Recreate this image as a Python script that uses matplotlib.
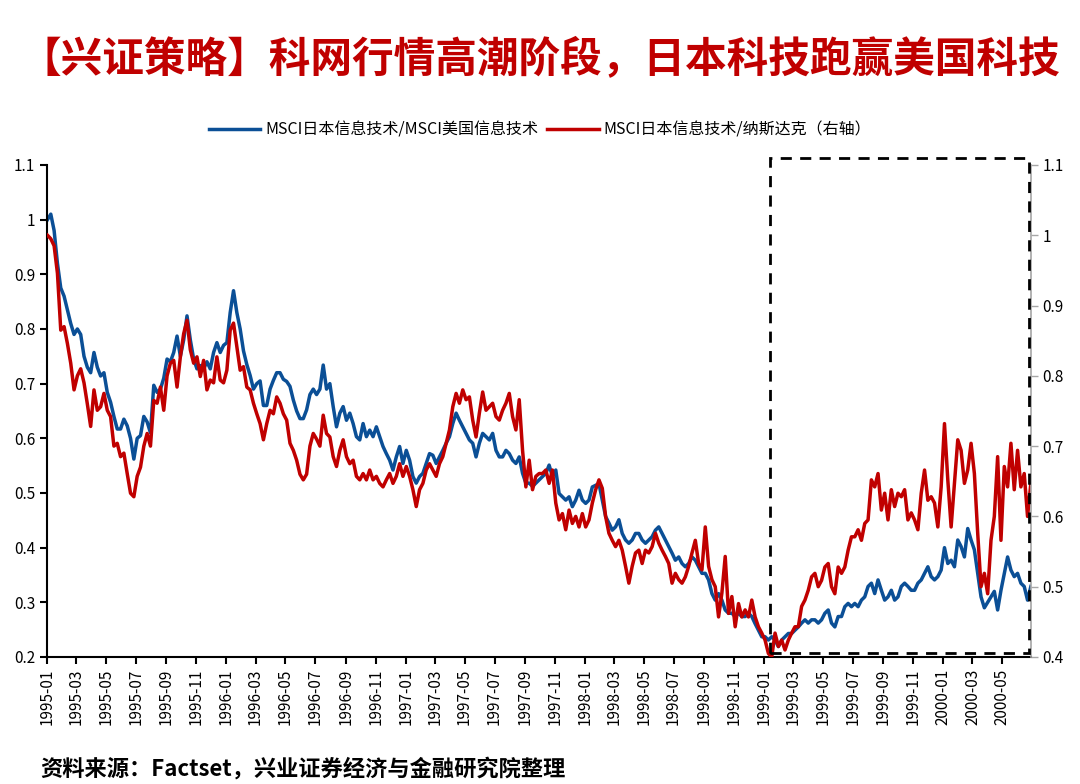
import numpy as np
import pandas as pd
import matplotlib
matplotlib.use("Agg")
import matplotlib.pyplot as plt
import matplotlib.dates as mdates
from matplotlib.patches import Rectangle

plt.rcParams['font.family'] = ['Noto Sans CJK SC', 'DejaVu Sans']
plt.rcParams['axes.unicode_minus'] = False

# MSCI日本信息技术/MSCI美国信息技术 (左轴), 周度读数
jp_us = [
    1.0, 1.01, 0.98, 0.92, 0.875, 0.86, 0.835, 0.81, 0.79, 0.80, 0.79, 0.75, 0.73, 0.72, 0.757,
    0.73, 0.714, 0.72, 0.684, 0.666, 0.64, 0.617, 0.617, 0.635, 0.623, 0.60, 0.562, 0.60, 0.605,
    0.64, 0.63, 0.61, 0.697, 0.684, 0.69, 0.71, 0.745, 0.74, 0.757, 0.787, 0.75, 0.78, 0.824,
    0.78, 0.745, 0.727, 0.733, 0.727, 0.74, 0.727, 0.757, 0.775, 0.757, 0.77, 0.775, 0.83, 0.87,
    0.83, 0.80, 0.76, 0.735, 0.715, 0.69, 0.70, 0.705, 0.66, 0.66, 0.69, 0.706, 0.72, 0.72,
    0.708, 0.704, 0.695, 0.67,
    0.65, 0.636, 0.636, 0.652, 0.68, 0.69, 0.68, 0.69, 0.734, 0.69, 0.70, 0.658, 0.621, 0.646,
    0.658, 0.633, 0.646, 0.627, 0.603, 0.597, 0.627, 0.603, 0.615, 0.603, 0.621, 0.603, 0.585,
    0.572, 0.56, 0.542, 0.566, 0.585, 0.554, 0.578, 0.56, 0.53, 0.518, 0.53, 0.536, 0.554, 0.572,
    0.569, 0.554, 0.566, 0.578, 0.591, 0.603, 0.627, 0.646, 0.633, 0.621, 0.609, 0.597, 0.591,
    0.566, 0.591, 0.609, 0.603, 0.597, 0.609, 0.578, 0.566, 0.566, 0.578, 0.572, 0.56, 0.554,
    0.566, 0.536, 0.518, 0.518, 0.512, 0.518, 0.524,
    0.53, 0.536, 0.551, 0.53, 0.542, 0.499, 0.493, 0.487, 0.493, 0.475, 0.487, 0.505, 0.487,
    0.481, 0.487, 0.511, 0.514, 0.517, 0.487, 0.457, 0.445, 0.432, 0.438, 0.451, 0.426, 0.414,
    0.408, 0.414, 0.426, 0.426, 0.414, 0.408, 0.414, 0.42, 0.432, 0.438, 0.426, 0.414, 0.402,
    0.39, 0.377, 0.383, 0.371, 0.365, 0.371, 0.383, 0.377, 0.365, 0.353, 0.353, 0.341, 0.316,
    0.304, 0.316, 0.304, 0.286, 0.28, 0.28, 0.274, 0.28, 0.274, 0.274, 0.28, 0.274, 0.261,
    0.249, 0.237, 0.237, 0.231,
    0.237, 0.231, 0.219, 0.231, 0.237, 0.243, 0.243, 0.249, 0.255, 0.262, 0.268, 0.262, 0.268,
    0.268, 0.262, 0.268, 0.28, 0.286, 0.262, 0.255, 0.274, 0.274, 0.292, 0.298, 0.292, 0.298,
    0.292, 0.304, 0.31, 0.329, 0.335, 0.316, 0.341, 0.322, 0.304, 0.31, 0.322, 0.304, 0.31,
    0.329, 0.335, 0.329, 0.322, 0.322, 0.335, 0.341, 0.353, 0.365, 0.347, 0.341, 0.347, 0.359,
    0.40, 0.371, 0.377, 0.365, 0.414, 0.402, 0.383, 0.435, 0.414, 0.396, 0.353, 0.31, 0.29,
    0.30, 0.31, 0.32, 0.286, 0.322, 0.353, 0.383, 0.359, 0.347, 0.353, 0.335, 0.329, 0.304, 0.329,
]

# MSCI日本信息技术/纳斯达克 (右轴)
jp_nasdaq = [
    1.0, 0.995, 0.985, 0.946, 0.865, 0.87, 0.846, 0.818, 0.78, 0.80, 0.81, 0.79, 0.76, 0.728,
    0.78, 0.751, 0.756, 0.775, 0.751, 0.742, 0.70, 0.704, 0.685, 0.69, 0.661, 0.633, 0.628,
    0.657, 0.67, 0.70, 0.718, 0.70, 0.765, 0.761, 0.784, 0.751, 0.80, 0.818, 0.822, 0.784, 0.827,
    0.86, 0.879, 0.837, 0.818, 0.827, 0.799, 0.822, 0.78, 0.794, 0.79, 0.827, 0.794, 0.79, 0.808,
    0.865, 0.875, 0.842, 0.808, 0.813, 0.784, 0.78, 0.761, 0.746, 0.732, 0.709, 0.732, 0.751,
    0.746, 0.77, 0.761, 0.746, 0.737, 0.704, 0.694,
    0.68, 0.66, 0.652, 0.66, 0.70, 0.718, 0.71, 0.70, 0.744, 0.718, 0.713, 0.685, 0.671, 0.694,
    0.709, 0.685, 0.675, 0.68, 0.657, 0.652, 0.661, 0.652, 0.666, 0.652, 0.657, 0.647, 0.642,
    0.652, 0.661, 0.647, 0.657, 0.675, 0.657, 0.671, 0.657, 0.638, 0.614, 0.638, 0.647, 0.666,
    0.675, 0.666, 0.657, 0.675, 0.685, 0.704, 0.723, 0.756, 0.775, 0.761, 0.78, 0.766, 0.77,
    0.737, 0.713, 0.747, 0.777, 0.751, 0.756, 0.761, 0.742, 0.737, 0.751, 0.761, 0.775, 0.742,
    0.723, 0.766, 0.694, 0.642, 0.68, 0.638, 0.657, 0.661,
    0.661, 0.666, 0.647, 0.666, 0.619, 0.595, 0.604, 0.581, 0.609, 0.59, 0.60, 0.585, 0.604,
    0.585, 0.595, 0.619, 0.638, 0.652, 0.640, 0.60, 0.576, 0.566, 0.557, 0.566, 0.552, 0.529,
    0.505, 0.529, 0.548, 0.552, 0.533, 0.552, 0.548, 0.557, 0.576, 0.562, 0.552, 0.543, 0.533,
    0.505, 0.519, 0.51, 0.505, 0.514, 0.529, 0.548, 0.566, 0.533, 0.524, 0.585, 0.529, 0.51,
    0.50, 0.457, 0.491, 0.543, 0.462, 0.486, 0.443, 0.476, 0.457, 0.467, 0.457, 0.481, 0.457,
    0.443, 0.434, 0.424, 0.405,
    0.40, 0.434, 0.415, 0.424, 0.41, 0.424, 0.434, 0.443, 0.443, 0.472, 0.481, 0.495, 0.514,
    0.519, 0.50, 0.509, 0.528, 0.533, 0.50, 0.49, 0.528, 0.519, 0.528, 0.552, 0.571, 0.571,
    0.581, 0.566, 0.59, 0.595, 0.652, 0.642, 0.661, 0.609, 0.633, 0.595, 0.638, 0.614, 0.633,
    0.628, 0.638, 0.595, 0.605, 0.595, 0.581, 0.633, 0.666, 0.623, 0.628, 0.619, 0.585, 0.642,
    0.732, 0.652, 0.585, 0.647, 0.709, 0.694, 0.647, 0.666, 0.704, 0.661, 0.576, 0.50, 0.519,
    0.49, 0.566, 0.60, 0.685, 0.566, 0.671, 0.642, 0.704, 0.638, 0.694, 0.642, 0.661, 0.60, 0.647,
]

dates = pd.date_range('1995-01-02', '2000-06-28', periods=len(jp_us))
tick_dates = pd.date_range('1995-01-01', '2000-05-01', freq='2MS')
left_ticks = [0.2, 0.3, 0.4, 0.5, 0.6, 0.7, 0.8, 0.9, 1.0, 1.1]
right_ticks = [0.4, 0.5, 0.6, 0.7, 0.8, 0.9, 1.0, 1.1]

BLUE = '#0B4F96'
RED = '#C00000'

fig = plt.figure(figsize=(10.8, 7.84), dpi=100)
ax = fig.add_axes([0.0435, 0.162, 0.911, 0.6276])
ax2 = ax.twinx()

l1, = ax.plot(dates, jp_us, color=BLUE, lw=2.5, label='MSCI日本信息技术/MSCI美国信息技术')
l2, = ax2.plot(dates, jp_nasdaq, color=RED, lw=2.5, label='MSCI日本信息技术/纳斯达克（右轴）')

ax.set_xlim(dates[0], dates[-1])
ax.set_ylim(0.2, 1.1)
ax2.set_ylim(0.4, 1.1)

def fmt(v):
    return ('%.1f' % v).rstrip('0').rstrip('.')

ax.set_yticks(left_ticks)
ax.set_yticklabels([fmt(v) for v in left_ticks])
ax2.set_yticks(right_ticks)
ax2.set_yticklabels([fmt(v) for v in right_ticks])

ax.set_xticks(tick_dates)
ax.xaxis.set_major_formatter(mdates.DateFormatter('%Y-%m'))
plt.setp(ax.get_xticklabels(), rotation=90)

for a in (ax, ax2):
    a.spines['top'].set_visible(False)
ax.spines['right'].set_visible(False)
ax.spines['left'].set_linewidth(1.5)
ax.spines['bottom'].set_linewidth(1.5)
ax2.spines['left'].set_visible(False)
ax2.spines['bottom'].set_visible(False)
ax2.spines['right'].set_color('#A6A6A6')
ax2.spines['right'].set_linewidth(1.2)

ax.tick_params(axis='both', labelsize=11, width=1.5, length=5, direction='out', colors='black')
ax2.tick_params(axis='y', labelsize=11, width=1, length=5, color='#A6A6A6', labelcolor='black')

# 虚线框标出1999年以来的区间
box = Rectangle((0.735, 0.009), 0.263, 1.005, transform=ax.transAxes, fill=False,
                ec='black', lw=2, ls=(0, (4, 3)), clip_on=False, zorder=5)
ax2.add_patch(box)

fig.legend(handles=[l1, l2], loc='center', bbox_to_anchor=(0.5, 0.834), ncol=2,
           frameon=False, fontsize=11.5, handlelength=3.2, columnspacing=0.6, handletextpad=0.3)

fig.text(0.5, 0.925, '【兴证策略】科网行情高潮阶段，日本科技跑赢美国科技', ha='center', va='center',
         fontsize=30, fontweight='bold', color=RED)
fig.text(0.037, 0.019, '资料来源：Factset，兴业证券经济与金融研究院整理', ha='left', va='center',
         fontsize=16, fontweight='bold', color='black')

fig.savefig('out.png', dpi=100)
